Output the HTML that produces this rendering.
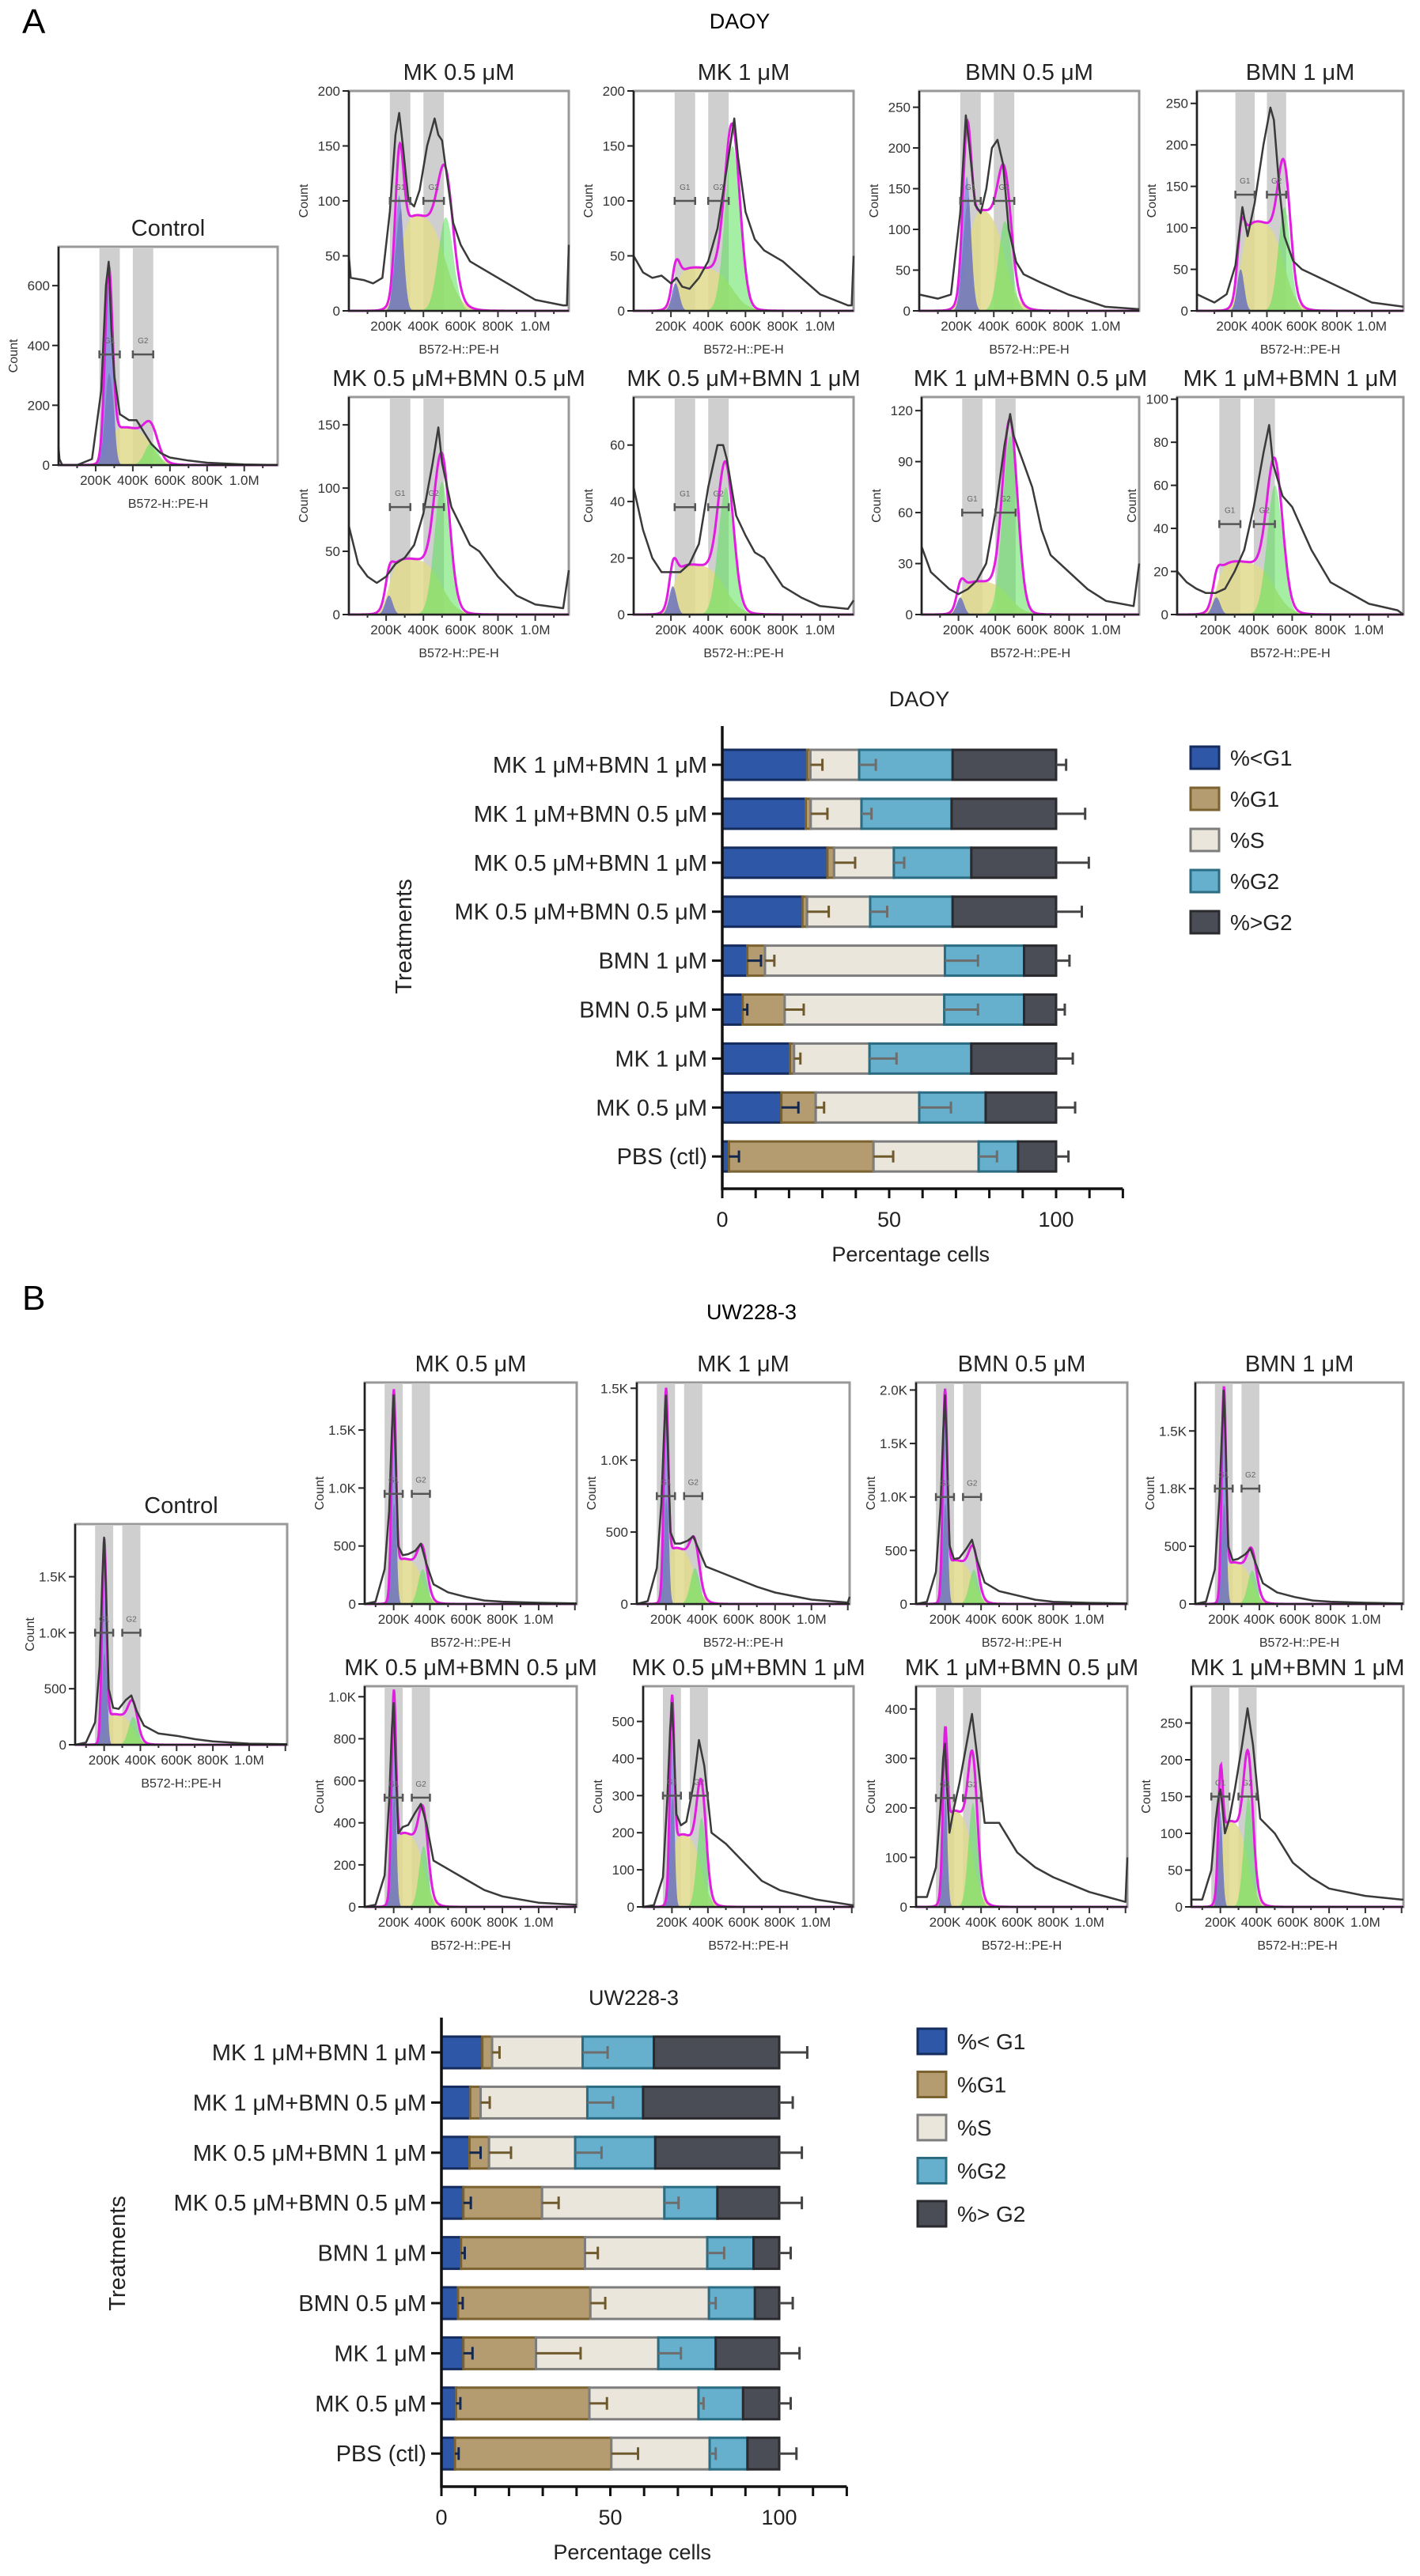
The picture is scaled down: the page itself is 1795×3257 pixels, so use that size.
<!DOCTYPE html>
<html><head><meta charset="utf-8"><title>Cell cycle analysis</title>
<style>
html,body{margin:0;padding:0;background:#fff;}
svg{display:block;font-family:"Liberation Sans",Arial,sans-serif;}
</style></head>
<body>
<svg id="fig" width="1795" height="3257" viewBox="0 0 1795 3257" xmlns="http://www.w3.org/2000/svg">
<rect x="0" y="0" width="1795" height="3257" fill="#fff"/>
<text x="28" y="42" font-size="44">A</text>
<text x="935" y="36" font-size="27" text-anchor="middle">DAOY</text>
<text x="28" y="1656" font-size="44">B</text>
<text x="950" y="1668" font-size="27" text-anchor="middle">UW228-3</text>
</svg>
<script>
// ---------------- Histogram data ----------------
const histTitlesA = ['Control','MK 0.5 μM','MK 1 μM','BMN 0.5 μM','BMN 1 μM','MK 0.5 μM+BMN 0.5 μM','MK 0.5 μM+BMN 1 μM','MK 1 μM+BMN 0.5 μM','MK 1 μM+BMN 1 μM'];
const histTitlesB = histTitlesA;
const histYMaxA = [730,200,200,270,265,172,77,128,101];
const histYTicksA = [[0,200,400,600],[0,50,100,150,200],[0,50,100,150,200],[0,50,100,150,200,250],[0,50,100,150,200,250],[0,50,100,150],[0,20,40,60],[0,30,60,90,120],[0,20,40,60,80,100]];
const histYTickLabelsA = [['0','200','400','600'],['0','50','100','150','200'],['0','50','100','150','200'],['0','50','100','150','200','250'],['0','50','100','150','200','250'],['0','50','100','150'],['0','20','40','60'],['0','30','60','90','120'],['0','20','40','60','80','100']];
const histXsA = [
 [0,5,20,100,180,230,255,270,285,300,330,380,420,460,500,550,600,700,800,1000,1180],
 [0,10,80,130,180,220,250,270,290,320,350,380,420,460,480,500,520,560,600,650,700,800,900,1000,1150,1170,1180],
 [0,50,100,150,200,230,260,300,350,400,450,500,540,560,600,650,700,800,900,1000,1150,1170,1180],
 [0,100,170,220,250,270,300,330,360,390,420,450,480,520,560,650,800,1000,1180],
 [0,100,170,220,260,290,330,380,420,440,470,500,550,600,700,800,1000,1180],
 [0,50,100,150,200,250,300,350,400,450,480,500,550,600,650,700,800,900,1000,1150,1180],
 [0,50,100,150,200,250,300,350,400,450,480,500,550,600,650,700,800,900,1000,1150,1180],
 [0,50,100,150,200,250,300,350,400,450,480,500,550,600,650,700,800,900,1000,1150,1180],
 [0,50,100,150,200,250,300,350,400,450,480,500,550,600,650,700,800,900,1000,1150,1180]
];
const histCountsA = [
 [60,20,0,0,20,250,600,680,450,300,170,150,150,110,70,40,25,15,8,2,0],
 [50,30,28,25,30,90,160,180,150,100,95,110,150,175,160,155,130,80,60,45,40,30,20,10,5,5,60],
 [50,35,30,32,25,30,22,20,30,45,75,130,175,140,90,65,55,45,30,15,5,5,50],
 [20,15,20,120,240,200,130,120,150,200,210,180,100,60,45,35,20,5,2],
 [20,10,20,55,125,90,130,200,245,230,150,90,60,50,40,30,10,5],
 [70,40,30,25,30,40,45,55,80,120,148,120,85,70,55,50,30,15,8,5,35],
 [45,30,20,15,15,15,18,25,45,60,60,55,35,28,22,20,10,6,3,2,5],
 [40,25,20,15,12,15,20,30,60,100,118,105,90,75,50,35,25,15,8,5,30],
 [20,15,12,10,10,12,20,30,50,75,88,70,55,50,40,30,15,10,5,2,0]
];
const histG1A = [[270,600,20],[270,105,22],[225,25,20],[255,165,22],[250,50,20],[215,15,20],[210,10,20],[210,10,20],[205,8,20]];
const histG2A = [[500,75,35],[520,85,40],[530,150,40],[460,110,35],[500,125,35],[500,105,40],[495,45,40],[480,105,40],[510,60,40]];
const histSA = [130,90,40,130,110,45,18,20,25];
const histBracketA = [370,100,100,135,140,85,38,60,42];

const histYMaxB = [1970,1910,1540,2070,1920,1050,595,446,300];
const histYTicksB = [[0,500,1000,1500],[0,500,1000,1500],[0,500,1000,1500],[0,500,1000,1500,2000],[0,500,1000,1500],[0,200,400,600,800,1000],[0,100,200,300,400,500],[0,100,200,300,400],[0,50,100,150,200,250]];
const histYTickLabelsB = [['0','500','1.0K','1.5K'],['0','500','1.0K','1.5K'],['0','500','1.0K','1.5K'],['0','500','1.0K','1.5K','2.0K'],['0','500','1.8K','1.5K'],['0','200','400','600','800','1.0K'],['0','100','200','300','400','500'],['0','100','200','300','400'],['0','50','100','150','200','250']];
const histXsB = [40,100,150,175,190,200,210,225,250,280,320,350,380,420,500,600,700,800,1000,1200,1210];
const histCountsB = [
 [0,20,200,700,1500,1850,1400,500,330,320,400,440,300,170,100,80,50,30,10,5,5],
 [0,20,300,800,1500,1800,1300,500,420,430,460,520,350,170,100,60,30,20,10,5,5],
 [0,20,250,700,1200,1450,1100,500,420,420,440,470,380,260,220,170,120,80,30,10,50],
 [0,20,300,900,1600,1950,1500,550,420,430,520,600,400,200,120,80,40,20,10,5,5],
 [0,20,300,900,1500,1850,1400,500,380,390,430,480,350,180,100,60,30,20,10,5,5],
 [0,10,150,500,850,970,700,350,380,390,450,490,400,220,180,130,80,50,20,10,10],
 [0,5,80,300,480,550,450,250,220,230,330,450,380,200,170,120,70,45,20,5,5],
 [20,20,80,200,300,330,250,150,200,250,330,390,300,170,170,110,80,60,30,10,100],
 [10,10,50,120,150,160,140,100,120,160,220,270,220,120,100,60,40,25,15,10,10]
];
const histG1B = [[200,1700,12],[200,1650,12],[200,1300,12],[200,1800,12],[200,1700,12],[200,850,12],[200,470,12],[200,260,12],[200,130,12]];
const histG2B = [[360,250,25],[360,300,25],[360,250,25],[360,320,25],[360,290,25],[365,290,25],[365,240,25],[355,210,25],[355,150,25]];
const histSB = [280,400,400,420,370,360,200,200,120];
const histBracketB = [1000,950,750,1000,1000,520,300,220,150];

// ---------------- Bar chart data ----------------
const treatments = ['MK 1 μM+BMN 1 μM','MK 1 μM+BMN 0.5 μM','MK 0.5 μM+BMN 1 μM','MK 0.5 μM+BMN 0.5 μM','BMN 1 μM','BMN 0.5 μM','MK 1 μM','MK 0.5 μM','PBS (ctl)'];
const xTickValues = [0,50,100];
const xTickLabels = ['0','50','100'];
const legendLabelsA = ['%<G1','%G1','%S','%G2','%>G2'];
const legendLabelsB = ['%< G1','%G1','%S','%G2','%> G2'];
const daoyLtG1 = [25.4,25,31.5,24,7.5,6.1,20.3,17.7,2];
const daoyG1 = [1,1.5,2,1.4,5.3,12.6,1.2,10.3,43.3];
const daoyS = [14.6,15.2,17.9,18.9,53.9,47.8,22.6,31,31.5];
const daoyG2 = [28,27,23.2,24.7,23.7,23.9,30.5,19.9,11.8];
const daoyGtG2 = [31,31.3,25.4,31,9.6,9.6,25.4,21.1,11.4];
const daoyErrLtG1 = [0,0,0,0,4.1,1.4,0,5.1,3];
const daoyErrG1 = [3.6,5,6.3,6.5,2.8,5.7,1.9,2.5,5.9];
const daoyErrS = [5,3,3.1,5.1,9.9,10.1,8.1,9.5,5.5];
const daoyErrG2 = [0,0,0,0,0,0,0,0,0];
const daoyErrGtG2 = [3,8.7,9.8,7.7,4,2.6,5,5.7,3.7];
const uwLtG1 = [12.1,8.5,8.3,6.5,5.8,4.9,6.5,4.3,4];
const uwG1 = [2.9,3.1,5.8,23.3,36.7,39.2,21.5,39.5,46.3];
const uwS = [26.8,31.6,25.5,36.2,36.2,35.1,36.2,32.3,29.1];
const uwG2 = [21.1,16.5,23.7,15.7,13.7,13.6,17,13.2,11.2];
const uwGtG2 = [37.1,40.3,36.7,18.3,7.6,7.2,18.8,10.7,9.4];
const uwErrLtG1 = [0,0,3.3,2.2,1.1,1.4,2.7,1.3,1.1];
const uwErrG1 = [2.2,2.7,6.5,4.9,3.8,4.4,13.2,5.2,7.9];
const uwErrS = [7.4,7.6,7.8,4.2,5,2,6.7,1.5,1.8];
const uwErrG2 = [0,0,0,0,0,0,0,0,0];
const uwErrGtG2 = [8.3,4,6.7,6.7,3.4,4,6,3.4,5.1];

// ---------------- helpers ----------------
const NS = 'http://www.w3.org/2000/svg';
const svg = document.getElementById('fig');
function mk(tag, attrs, parent){
  const e = document.createElementNS(NS, tag);
  for (const k in attrs) e.setAttribute(k, attrs[k]);
  (parent || svg).appendChild(e);
  return e;
}
function txt(s, attrs, parent){ const t = mk('text', attrs, parent); t.textContent = s; return t; }
function gauss(x, p){ const d = (x - p[0]) / p[2]; return p[1] * Math.exp(-0.5 * d * d); }
function sig(t){ return 1 / (1 + Math.exp(-t)); }

// ---------------- histogram panels ----------------
function drawHist(box, dom, bands, title, yMax, yTicks, yLabels, xs, counts, g1, g2, sLvl, brk){
  const g = mk('g', {});
  
  
  const X = k => box.x + (k - dom[0]) / (dom[1] - dom[0]) * box.w;
  const Y = c => box.y + box.h - Math.max(0, Math.min(c, yMax * 1.02)) / yMax * box.h;
  const t = txt(title, {x: box.x + box.w / 2, y: box.y - 14, 'font-size': 29, 'text-anchor': 'middle', fill: '#222'}, g);
  
  
  const fr = mk('rect', {x: box.x, y: box.y, width: box.w, height: box.h, fill: '#fff', stroke: '#999', 'stroke-width': 3}, g);
  
  
  bands.forEach((b, i) => {
    const r = mk('rect', {x: X(b[0]), y: box.y + 1, width: X(b[1]) - X(b[0]), height: box.h - 2, fill: '#cfcfcf'}, g);
    
    
  });
  const sF = x => sLvl * sig((x - g1[0]) / g1[2]) * sig((g2[0] - x) / g2[2]);
  const step = (dom[1] - dom[0]) / 400;
  function area(fn, fill, name){
    let d = 'M' + X(dom[0]) + ',' + Y(0);
    for (let k = dom[0]; k <= dom[1]; k += step) d += 'L' + X(k).toFixed(1) + ',' + Y(fn(k)).toFixed(1);
    d += 'L' + X(dom[1]) + ',' + Y(0) + 'Z';
    const p = mk('path', {d: d, fill: fill}, g);
    
    
  }
  area(sF, 'rgba(225,218,140,0.85)', 's-phase-fill');
  area(k => Math.min(gauss(k, g1), sF(k) + gauss(k, g1) * 0.4) , 'rgba(110,110,110,0.55)', 'overlap-fill');
  area(k => gauss(k, g1), 'rgba(95,105,230,0.55)', 'g1-fill');
  area(k => gauss(k, g2), 'rgba(90,225,90,0.55)', 'g2-fill');
  let md = '';
  for (let k = dom[0]; k <= dom[1]; k += step) {
    const v = gauss(k, g1) + gauss(k, g2) + sF(k);
    md += (md ? 'L' : 'M') + X(k).toFixed(1) + ',' + Y(v).toFixed(1);
  }
  const ml = mk('path', {d: md, fill: 'none', stroke: '#e01ee0', 'stroke-width': 3}, g);
  
  
  let od = '';
  xs.forEach((k, i) => { od += (i ? 'L' : 'M') + X(k).toFixed(1) + ',' + Y(counts[i]).toFixed(1); });
  const ol = mk('path', {d: od, fill: 'none', stroke: '#3a3a3a', 'stroke-width': 2.5, 'stroke-linejoin': 'round'}, g);
  
  
  bands.forEach((b, i) => {
    const yb = Y(brk);
    const bl = mk('path', {d: 'M' + X(b[0]) + ',' + yb + 'H' + X(b[1]) + 'M' + X(b[0]) + ',' + (yb - 5) + 'v10M' + X(b[1]) + ',' + (yb - 5) + 'v10', stroke: '#555', 'stroke-width': 2.5, fill: 'none'}, g);
    
    
    const bt = txt(i === 0 ? 'G1' : 'G2', {x: (X(b[0]) + X(b[1])) / 2, y: yb - 14, 'font-size': 10, 'text-anchor': 'middle', fill: '#666'}, g);
    
    
  });
  const ax = mk('path', {d: 'M' + box.x + ',' + box.y + 'V' + (box.y + box.h) + 'H' + (box.x + box.w), stroke: '#222', 'stroke-width': 2.5, fill: 'none'}, g);
  
  
  yTicks.forEach((v, i) => {
    const yy = Y(v);
    mk('line', {x1: box.x - 8, x2: box.x, y1: yy, y2: yy, stroke: '#222', 'stroke-width': 2}, g);
    const tl = txt(yLabels[i], {x: box.x - 11, y: yy + 6, 'font-size': 17, 'text-anchor': 'end', fill: '#333'}, g);
    
    
  });
  const xt = [200, 400, 600, 800, 1000], xtl = ['200K', '400K', '600K', '800K', '1.0M'];
  for (let k = 100; k < dom[1]; k += 100) mk('line', {x1: X(k), x2: X(k), y1: box.y + box.h, y2: box.y + box.h + (k % 200 ? 4 : 8), stroke: '#333', 'stroke-width': 2}, g);
  xt.forEach((k, i) => {
    const tl = txt(xtl[i], {x: X(k), y: box.y + box.h + 25, 'font-size': 17, 'text-anchor': 'middle', fill: '#333'}, g);
    
    
  });
  const xl = txt('B572-H::PE-H', {x: box.x + box.w / 2, y: box.y + box.h + 54, 'font-size': 16, 'text-anchor': 'middle', fill: '#333'}, g);
  
  
  const yl = txt('Count', {x: 0, y: 0, 'font-size': 16, 'text-anchor': 'middle', fill: '#333', transform: 'translate(' + (box.x - 52) + ',' + (box.y + box.h / 2) + ') rotate(-90)'}, g);
  
  
}

const boxesA = [
  {x:74,y:312,w:277,h:276},
  {x:441,y:115,w:278,h:278},{x:801,y:115,w:278,h:278},{x:1162,y:115,w:278,h:278},{x:1513,y:115,w:261,h:278},
  {x:441,y:502,w:278,h:275},{x:801,y:502,w:278,h:275},{x:1165,y:502,w:275,h:275},{x:1488,y:502,w:286,h:275}
];
const boxesB = [
  {x:95,y:1927,w:268,h:279},
  {x:461,y:1748,w:268,h:280},{x:805,y:1748,w:269,h:280},{x:1158,y:1748,w:267,h:280},{x:1511,y:1748,w:263,h:280},
  {x:461,y:2132,w:268,h:279},{x:813,y:2132,w:266,h:279},{x:1158,y:2132,w:267,h:279},{x:1506,y:2132,w:268,h:279}
];
for (let i = 0; i < 9; i++) {
  drawHist(boxesA[i], [0,1180], [[220,330],[400,510]], histTitlesA[i], histYMaxA[i], histYTicksA[i], histYTickLabelsA[i], histXsA[i], histCountsA[i], histG1A[i], histG2A[i], histSA[i], histBracketA[i]);
  drawHist(boxesB[i], [40,1210], [[150,250],[300,400]], histTitlesB[i], histYMaxB[i], histYTicksB[i], histYTickLabelsB[i], histXsB, histCountsB[i], histG1B[i], histG2B[i], histSB[i], histBracketB[i]);
}

// ---------------- stacked bar charts ----------------
const segFill = ['#2f57a8','#b59c70','#ebe6dc','#66b0cd','#4a4d55'];
const segStroke = ['#152c5e','#7b6231','#7d7d7d','#2b6c82','#2a2a2e'];
const errStroke = ['#14284f','#6f5a2e','#6d6d6d','#2e6d80','#444'];
const segNames = ['lt-g1','g1','s-phase','g2','gt-g2'];

function drawBars(L, title, series, errs, legendLabels){
  const g = mk('g', {});
  
  
  const X = v => L.x0 + v * L.scale;
  const Yc = i => L.y0 + i * L.step;
  const tt = txt(title, {x: L.titleX, y: L.titleY, 'font-size': 27, 'text-anchor': 'middle', fill: '#222'}, g);
  
  
  treatments.forEach((name, i) => {
    const yc = Yc(i);
    let cum = 0;
    series.forEach((s, j) => {
      const r = mk('rect', {x: X(cum), y: yc - L.barH / 2, width: s[i] * L.scale, height: L.barH, fill: segFill[j], stroke: segStroke[j], 'stroke-width': 3}, g);
      
      
      cum += s[i];
    });
    cum = 0;
    series.forEach((s, j) => {
      cum += s[i];
      const e = errs[j][i];
      if (e > 0) {
        const p = mk('path', {d: 'M' + X(cum) + ',' + yc + 'H' + X(cum + e) + 'M' + X(cum + e) + ',' + (yc - L.barH * 0.2) + 'V' + (yc + L.barH * 0.2), stroke: errStroke[j], 'stroke-width': 3, fill: 'none'}, g);
        
        
      }
    });
    mk('line', {x1: L.x0 - 13, x2: L.x0, y1: yc, y2: yc, stroke: '#111', 'stroke-width': 3}, g);
    const lb = txt(name, {x: L.x0 - 19, y: yc + 10, 'font-size': 29, 'text-anchor': 'end', fill: '#222'}, g);
    
    
  });
  const ax = mk('path', {d: 'M' + L.x0 + ',' + L.axTop + 'V' + L.axY + 'H' + X(120), stroke: '#111', 'stroke-width': 3.5, fill: 'none'}, g);
  
  
  for (let v = 0; v <= 120; v += 10) mk('line', {x1: X(v), x2: X(v), y1: L.axY, y2: L.axY + 12, stroke: '#111', 'stroke-width': 3}, g);
  xTickValues.forEach((v, i) => {
    const tl = txt(xTickLabels[i], {x: X(v), y: L.axY + 48, 'font-size': 27, 'text-anchor': 'middle', fill: '#222'}, g);
    
    
  });
  const xt = txt('Percentage cells', {x: X(60) - 15, y: L.axY + 92, 'font-size': 27, 'text-anchor': 'middle', fill: '#222'}, g);
  
  
  const yt = txt('Treatments', {x: 0, y: 0, 'font-size': 29, 'text-anchor': 'middle', fill: '#222', transform: 'translate(' + L.ytX + ',' + L.ytY + ') rotate(-90)'}, g);
  
  
  legendLabels.forEach((lab, j) => {
    const yy = L.legY + j * L.legStep;
    const r = mk('rect', {x: L.legX, y: yy - L.legH / 2, width: L.legW, height: L.legH, fill: segFill[j], stroke: segStroke[j], 'stroke-width': 3}, g);
    
    
    const t = txt(lab, {x: L.legX + L.legW + 14, y: yy + 10, 'font-size': 28, fill: '#222'}, g);
    
    
  });
}
drawBars({x0:913, scale:4.22, y0:967, step:61.9, barH:38, axY:1503, axTop:918, titleX:1162, titleY:893, ytX:520, ytY:1184, legX:1505, legW:36, legH:28, legY:958, legStep:52},
  'DAOY', [daoyLtG1, daoyG1, daoyS, daoyG2, daoyGtG2], [daoyErrLtG1, daoyErrG1, daoyErrS, daoyErrG2, daoyErrGtG2], legendLabelsA);
drawBars({x0:558, scale:4.27, y0:2595, step:63.4, barH:40, axY:3144, axTop:2551, titleX:801, titleY:2535, ytX:158, ytY:2849, legX:1160, legW:36, legH:32, legY:2581, legStep:54.5},
  'UW228-3', [uwLtG1, uwG1, uwS, uwG2, uwGtG2], [uwErrLtG1, uwErrG1, uwErrS, uwErrG2, uwErrGtG2], legendLabelsB);
</script>
</body></html>
